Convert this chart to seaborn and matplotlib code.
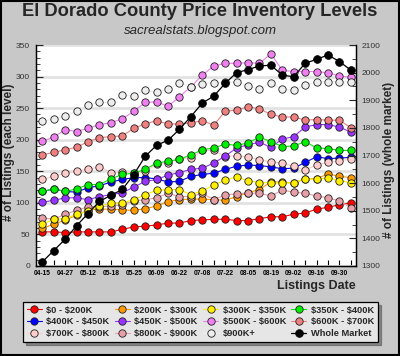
import matplotlib
matplotlib.use("Agg")
import matplotlib.pyplot as plt
import seaborn as sns
import numpy as np
import pandas as pd
from matplotlib.ticker import MultipleLocator, FixedLocator
from matplotlib.patches import Rectangle

# ---------------- data ----------------
tick_labels = ["04-15", "04-27", "05-12", "05-18", "05-25", "06-09", "06-22",
               "07-08", "07-22", "08-05", "08-19", "09-02", "09-16", "09-30"]
n_points = 28

red = [54, 54, 53, 54, 54, 54, 54, 58, 62, 63, 65, 68, 68, 72, 73, 74, 74, 72, 72, 75, 78, 78, 82, 84, 90, 93, 97, 100]
orange = [60, 66, 73, 80, 89, 90, 90, 89, 88, 91, 95, 102, 105, 106, 106, 105, 104, 110, 116, 121, 133, 133, 131, 138, 138, 146, 142, 140]
yellow = [66, 74, 75, 82, 87, 95, 99, 100, 105, 113, 120, 121, 121, 113, 119, 128, 136, 141, 135, 132, 132, 131, 132, 138, 137, 140, 135, 132]
green = [118, 122, 118, 122, 129, 129, 138, 145, 147, 153, 163, 166, 169, 176, 184, 187, 193, 191, 195, 204, 197, 189, 190, 197, 187, 186, 183, 183]
blue = [118, 122, 118, 117, 124, 127, 133, 137, 140, 140, 138, 133, 134, 142, 145, 147, 153, 158, 160, 159, 157, 154, 155, 164, 173, 170, 171, 172]
purple = [101, 104, 108, 108, 105, 110, 113, 116, 125, 134, 137, 144, 148, 153, 155, 163, 174, 187, 192, 196, 188, 201, 205, 220, 224, 224, 220, 212]
violet = [198, 204, 216, 213, 218, 224, 227, 233, 245, 259, 260, 253, 268, 284, 302, 317, 321, 321, 322, 321, 336, 310, 308, 308, 308, 306, 301, 299]
salmon = [176, 180, 184, 188, 197, 203, 205, 206, 218, 225, 230, 225, 225, 227, 230, 223, 245, 247, 252, 249, 240, 236, 236, 231, 232, 231, 231, 219]
lightpink = [137, 142, 147, 151, 153, 157, 148, 149, 147, 150, 161, 163, 170, 171, 183, 183, 173, 175, 173, 168, 165, 163, 158, 152, 160, 164, 166, 170]
rosy = [76, 74, 82, 88, 94, 94, 95, 97, 103, 105, 108, 115, 110, 110, 115, 105, 113, 114, 116, 115, 111, 120, 117, 115, 111, 108, 103, 92]
white = [229, 233, 237, 245, 255, 259, 259, 271, 270, 279, 275, 280, 290, 284, 289, 290, 291, 291, 285, 280, 290, 280, 278, 287, 291, 292, 292, 291]
whole_market = [1315, 1356, 1397, 1446, 1490, 1534, 1556, 1577, 1631, 1697, 1737, 1755, 1795, 1841, 1890, 1915, 1961, 2000, 2011, 2024, 2027, 1991, 1985, 2034, 2048, 2064, 2040, 2009]

series_names = ["$0 - $200K", "$400K - $450K", "$700K - $800K",
                "$200K - $300K", "$450K - $500K", "$800K - $900K",
                "$300K - $350K", "$500K - $600K", "$900K+",
                "$350K - $400K", "$600K - $700K"]
series_values = [red, blue, lightpink, orange, purple, rosy, yellow, violet, white, green, salmon]
series_colors = ["#ff0000", "#0000ff", "#ffcccc", "#ff9900", "#9933ff", "#e8a0a8",
                 "#ffee00", "#f080f0", "#eeeeee", "#00ee00", "#f08080"]

# ---------------- style ----------------
sns.set_style("white")
plt.rcParams["font.family"] = ["Liberation Sans", "DejaVu Sans"]
plt.rcParams["text.parse_math"] = False

bg = "#c8c8c8"
fig = plt.figure(figsize=(4.0, 3.56), dpi=100, facecolor=bg)
ax = fig.add_axes([35.5 / 400, 1 - 266 / 356, (356 - 35.5) / 400, (266 - 45) / 356])
ax.set_facecolor("white")
ax2 = ax.twinx()

x = np.arange(n_points)
handles = []
for name, vals, col in zip(series_names, series_values, series_colors):
    df = pd.DataFrame({"x": x, "y": vals})
    sns.lineplot(data=df, x="x", y="y", ax=ax, color=col, linewidth=0.8,
                 marker="o", markersize=5.3, markeredgecolor="#202020",
                 markeredgewidth=0.6, label=name, legend=False)
    handles.append(ax.lines[-1])

dfw = pd.DataFrame({"x": x, "y": whole_market})
sns.lineplot(data=dfw, x="x", y="y", ax=ax2, color="black", linewidth=0.9,
             marker="o", markersize=5.6, markeredgecolor="black",
             markeredgewidth=0.5, label="Whole Market", legend=False)
handles.append(ax2.lines[-1])

# axes limits / ticks
ax.set_xlim(-0.6, 27.45)
ax.set_ylim(0, 350)
ax2.set_ylim(1300, 2100)

ax.xaxis.set_major_locator(FixedLocator(np.arange(0, 27, 2)))
ax.xaxis.set_minor_locator(FixedLocator(np.arange(1, 28, 2)))
ax.set_xticklabels(tick_labels)
ax.yaxis.set_major_locator(MultipleLocator(50))
ax.yaxis.set_minor_locator(MultipleLocator(10))
ax2.yaxis.set_major_locator(MultipleLocator(100))
ax2.yaxis.set_minor_locator(MultipleLocator(50))

ax.grid(axis="y", color="#e2e2e2", linewidth=2.0)
ax.set_axisbelow(True)

ax.tick_params(axis="x", which="both", direction="in", length=4, width=0.8,
               labelsize=4.8, pad=3, colors="black", bottom=True)
for t in ax.get_xticklabels():
    t.set_fontweight("bold")
ax.tick_params(axis="y", which="major", direction="in", length=5, width=0.8,
               labelsize=6, pad=4, labelcolor="#333333", left=True)
ax.tick_params(axis="y", which="minor", direction="in", length=3, width=0.6, left=True)
ax2.tick_params(axis="y", which="major", direction="in", length=5, width=0.8,
                labelsize=6, pad=4, labelcolor="#333333", right=True)
ax2.tick_params(axis="y", which="minor", direction="in", length=3, width=0.6, right=True)

for a in (ax, ax2):
    a.spines["top"].set_visible(False)
    for s in ("left", "right", "bottom"):
        a.spines[s].set_color("black")
        a.spines[s].set_linewidth(0.9)

ax.set_xlabel("")
ax.set_ylabel("")
ax2.set_ylabel("")
fig.text(9.5 / 400, 1 - 152 / 356, "# of Listings (each level)", rotation=90,
         ha="center", va="center", fontsize=8.5, fontweight="bold")
fig.text(389 / 400, 1 - 160 / 356, "# of Listings (whole market)", rotation=90,
         ha="center", va="center", fontsize=8.5, fontweight="bold")

fig.text(356 / 400, 1 - 286 / 356, "Listings Date", ha="right", va="center",
         fontsize=9, fontweight="bold")
fig.text(0.5, 1 - 11.5 / 356, "El Dorado County Price Inventory Levels", ha="center",
         va="center", fontsize=13.2, fontweight="bold")
fig.text(0.5, 1 - 31 / 356, "sacrealstats.blogspot.com", ha="center", va="center",
         fontsize=9.5, fontstyle="italic")

labels = [h.get_label() for h in handles]
leg = fig.legend(handles, labels, ncol=4, loc="lower left",
                 bbox_to_anchor=(23 / 400, 1 - 342 / 356, 355 / 400, 43 / 356),
                 mode="expand", fontsize=6.7, frameon=True, fancybox=False,
                 shadow=True, handlelength=1.6, handletextpad=0.5,
                 borderpad=0.4, labelspacing=0.3, columnspacing=0.4,
                 borderaxespad=0.0)
leg.get_frame().set_facecolor("#e6e6e6")
leg.get_frame().set_edgecolor("black")
leg.get_frame().set_linewidth(0.9)
for t in leg.get_texts():
    t.set_fontweight("bold")

fig.patches.append(Rectangle((0.002, 0.002), 0.996, 0.996, transform=fig.transFigure,
                             fill=False, edgecolor="black", linewidth=1.5))

fig.savefig("out.png", dpi=100, facecolor=bg)
